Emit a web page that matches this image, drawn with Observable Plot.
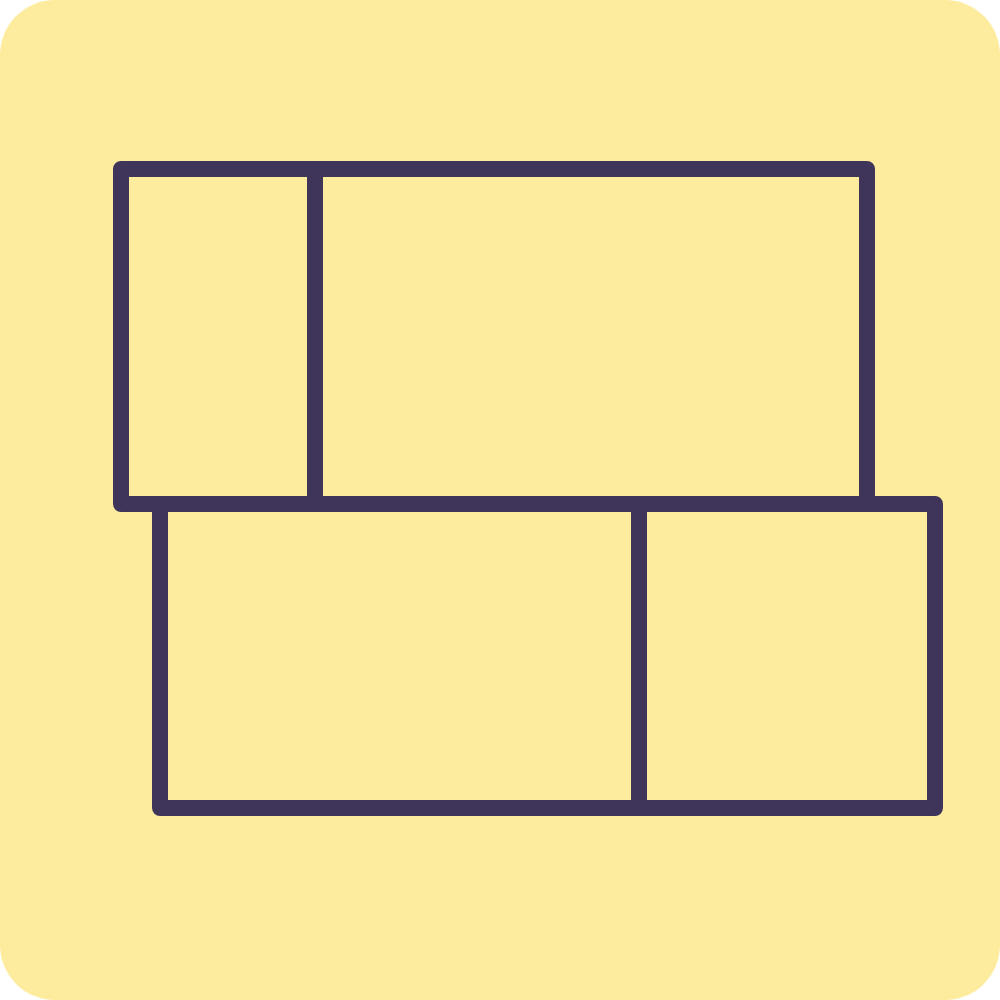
<!DOCTYPE html>
<html>
<head>
<meta charset="utf-8">
<script src="https://cdn.jsdelivr.net/npm/d3@7"></script>
<script src="https://cdn.jsdelivr.net/npm/@observablehq/plot@0.6"></script>
<style>
  html, body { margin: 0; padding: 0; background: #ffffff; }
  #chart svg { display: block; }
</style>
</head>
<body>
<div id="chart"></div>
<script>
// Panel boxes (chart units on a 0–1000 grid, y downward)
const panelNames = ["top-left", "top-right", "bottom-left", "bottom-right"];
const panelX1 = [121, 315, 160, 639];
const panelX2 = [315, 867, 639, 935];
const panelY1 = [169, 169, 504, 504];
const panelY2 = [504, 504, 808, 808];

const panels = panelNames.map((name, i) => ({
  name, x1: panelX1[i], x2: panelX2[i], y1: panelY1[i], y2: panelY2[i]
}));

const frame = [{x1: 0, x2: 1000, y1: 0, y2: 1000}];

const plot = Plot.plot({
  width: 1000,
  height: 1000,
  margin: 0,
  x: {domain: [0, 1000], axis: null},
  y: {domain: [0, 1000], reverse: true, axis: null},
  style: {background: "transparent"},
  marks: [
    Plot.rect(frame, {x1: "x1", x2: "x2", y1: "y1", y2: "y2", fill: "#FEEC9E", rx: 55, ry: 55}),
    Plot.rect(panels, {
      x1: "x1", x2: "x2", y1: "y1", y2: "y2",
      fill: "none", stroke: "#3F355A", strokeWidth: 16, strokeLinejoin: "round"
    })
  ]
});
document.getElementById("chart").appendChild(plot);
</script>
</body>
</html>
